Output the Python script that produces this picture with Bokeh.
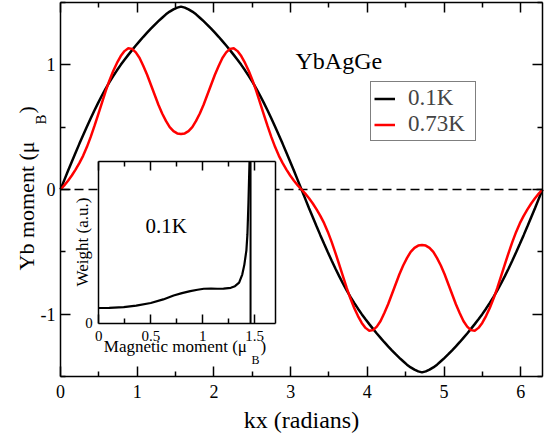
import numpy as np
from bokeh.plotting import figure
from bokeh.models import (Range1d, LinearAxis, FixedTicker, Label, Legend,
                          LegendItem)
from bokeh.embed import file_html
from bokeh.resources import INLINE

FONT = "Liberation Serif"

# ---- main panel data: Yb moment along one modulation period ----
kx = [j * np.pi / 64 for j in range(129)]

# first quarter period, read off point by point; the rest of the period
# follows the mirror / sign-flip pattern the curves show
q_01K = [0.0, 0.075, 0.15, 0.223, 0.295, 0.366, 0.435, 0.503, 0.57, 0.634,
         0.695, 0.754, 0.81, 0.862, 0.91, 0.956, 1.00, 1.041, 1.08, 1.118,
         1.155, 1.19, 1.225, 1.258, 1.29, 1.321, 1.35, 1.378, 1.405, 1.427,
         1.445, 1.459, 1.467]
q_073K = [0.0, 0.033, 0.07, 0.112, 0.16, 0.212, 0.27, 0.34, 0.42, 0.508,
          0.60, 0.695, 0.79, 0.875, 0.95, 1.015, 1.07, 1.11, 1.133, 1.128,
          1.10, 1.055, 0.99, 0.92, 0.84, 0.76, 0.68, 0.61, 0.55, 0.50,
          0.468, 0.45, 0.445]


def full_period(q):
    half = q + q[-2::-1]
    return half + [-v for v in half[1:]]


m_01K = full_period(q_01K)
m_073K = full_period(q_073K)

x_ticks = [0, 1, 2, 3, 4, 5, 6]
x_minor = [0.5, 1.5, 2.5, 3.5, 4.5, 5.5]
y_ticks = [-1, 0, 1]
y_minor = [-1.5, -0.5, 0.5, 1.5]
X_LIM = (0.0, 2 * np.pi)
Y_LIM = (-1.5, 1.5)

# ---- inset data: weight distribution of the moment at 0.1K ----
moment = [0.0, 0.1, 0.24, 0.36, 0.5, 0.62, 0.72, 0.8, 0.88, 0.95, 1.01,
          1.08, 1.14, 1.2, 1.27, 1.31, 1.35, 1.38, 1.4, 1.42, 1.43, 1.44, 1.45]
weight = [0.093, 0.094, 0.098, 0.108, 0.124, 0.146, 0.17, 0.185, 0.197,
          0.206, 0.212, 0.213, 0.212, 0.213, 0.218, 0.228, 0.25, 0.3, 0.36,
          0.45, 0.55, 0.75, 1.0]
max_moment = 1.46
inset_major = [0, 0.5, 1.0, 1.5]
inset_minor = [0.25, 0.75, 1.25]
INSET_X = (0.0, 1.7)
INSET_Y = (0.0, 1.0)

# ---- layout in canvas pixels; the plot frame spans the whole canvas ----
W, H = 551, 434
F_L, F_R, F_T, F_B = 60.0, 542.0, 2.0, 376.0      # main box
I_L, I_R, I_T, I_B = 98.3, 275.0, 161.0, 322.5   # inset box


def span_range(lo, hi, p_lo, p_hi, total):
    """Range whose [lo, hi] lands on pixels [p_lo, p_hi] of a 0..total axis."""
    s = (p_hi - p_lo) / (hi - lo)
    return Range1d(lo - p_lo / s, hi + (total - p_hi) / s)


def span_range_y(lo, hi, p_top, p_bot, total):
    s = (p_bot - p_top) / (hi - lo)
    return Range1d(lo - (total - p_bot) / s, hi + p_top / s)


p = figure(width=W, height=H,
           x_range=span_range(*X_LIM, F_L, F_R, W),
           y_range=span_range_y(*Y_LIM, F_T, F_B, H),
           output_backend="svg", toolbar_location=None,
           x_axis_location=None, y_axis_location=None, min_border=0)
p.grid.visible = False
p.outline_line_color = None
p.background_fill_color = "white"
p.border_fill_color = "white"
p.extra_x_ranges = {"ix": span_range(*INSET_X, I_L, I_R, W)}
p.extra_y_ranges = {"iy": span_range_y(*INSET_Y, I_T, I_B, H)}


def make_axis(ticks, minor, loc, bounds, labels, major=10, minor_len=5,
              size="18px", standoff=5, **kw):
    ax = LinearAxis(ticker=FixedTicker(ticks=ticks, minor_ticks=minor),
                    fixed_location=loc, bounds=bounds,
                    major_tick_in=major, major_tick_out=0,
                    minor_tick_in=minor_len, minor_tick_out=0,
                    axis_line_width=1.5, major_tick_line_width=1.5,
                    minor_tick_line_width=1.5, axis_line_color="black",
                    major_tick_line_color="black",
                    minor_tick_line_color="black",
                    major_label_text_font=FONT,
                    major_label_text_font_size=size,
                    major_label_text_color="black",
                    major_label_standoff=standoff, **kw)
    if labels:
        ax.major_label_overrides = {t: f"{t:g}" for t in ticks}
    else:
        ax.major_label_text_color = None
    return ax


# dashed zero reference across the period (under the curves and the inset)
p.line([kx[0], kx[-1]], [0, 0], line_color="black", line_width=1.5,
       line_dash="9 5")

r_01 = p.line(kx, m_01K, line_color="black", line_width=2.5)
r_073 = p.line(kx, m_073K, line_color="red", line_width=2.5)

# main box axes, ticks pointing inward
p.add_layout(make_axis(x_ticks, x_minor, Y_LIM[0], X_LIM, True,
                       standoff=8), "below")
p.add_layout(make_axis(x_ticks, x_minor, Y_LIM[1], X_LIM, False), "above")
p.add_layout(make_axis(y_ticks, y_minor, X_LIM[0], Y_LIM, True), "left")
p.add_layout(make_axis(y_ticks, y_minor, X_LIM[1], Y_LIM, False), "right")

legend = Legend(items=[LegendItem(label="0.1K", renderers=[r_01]),
                       LegendItem(label="0.73K", renderers=[r_073])],
                location=(373 - 3, H - 141), orientation="vertical",
                label_text_font=FONT, label_text_font_size="23px",
                glyph_width=21, glyph_height=23, label_height=23,
                label_width=64, label_standoff=13, padding=3, spacing=0,
                margin=0, border_line_color="black", border_line_width=1,
                background_fill_color="white", background_fill_alpha=1.0)
p.add_layout(legend)

# ---- inset ----
inset = dict(x_range_name="ix", y_range_name="iy")
p.quad(left=INSET_X[0], right=INSET_X[1], bottom=INSET_Y[0],
       top=INSET_Y[1], fill_color="white", line_color=None, **inset)
p.line(moment, weight, line_color="black", line_width=2.2, **inset)
p.segment(x0=max_moment, y0=INSET_Y[0], x1=max_moment, y1=INSET_Y[1],
          line_color="black", line_width=2.0, **inset)

p.add_layout(make_axis(inset_major, inset_minor, INSET_Y[0], INSET_X, True,
                       major=9, minor_len=5, size="15px", standoff=8,
                       **inset), "below")
p.add_layout(make_axis(inset_major, inset_minor, INSET_Y[1], INSET_X, False,
                       major=9, minor_len=5, **inset), "above")
p.add_layout(make_axis([0], [], INSET_X[0], INSET_Y, True, major=0,
                       minor_len=0, size="15px", standoff=6, **inset), "left")
p.add_layout(make_axis([], [], INSET_X[1], INSET_Y, False, major=0,
                       minor_len=0, **inset), "right")


def add_text(txt, cx, cy, size, angle=0.0, align="left"):
    """Text whose cap-height middle sits at canvas pixel (cx, cy)."""
    p.add_layout(Label(x=cx, y=H - cy, x_units="screen", y_units="screen",
                       text=txt, angle=angle, text_font=FONT,
                       text_font_size=f"{size}px", text_align=align,
                       text_baseline="middle", text_color="black"))


up = np.pi / 2
add_text("kx (radians)", 301, 419, 24, align="center")
add_text("Yb moment (μ", 25.6, 270, 22, angle=up)
add_text("B", 40, 124, 15, angle=up)
add_text(")", 25.6, 113, 22, angle=up)
add_text("YbAgGe", 295, 60.5, 24)
add_text("0.1K", 145, 225, 21)
add_text("Weight (a.u.)", 82, 241.5, 17, angle=up, align="center")
add_text("Magnetic moment (μ", 103.3, 346, 17)
add_text("B", 251, 359, 12)
add_text(")", 260, 346, 17)

open("out.html", "w").write(file_html(p, INLINE))
